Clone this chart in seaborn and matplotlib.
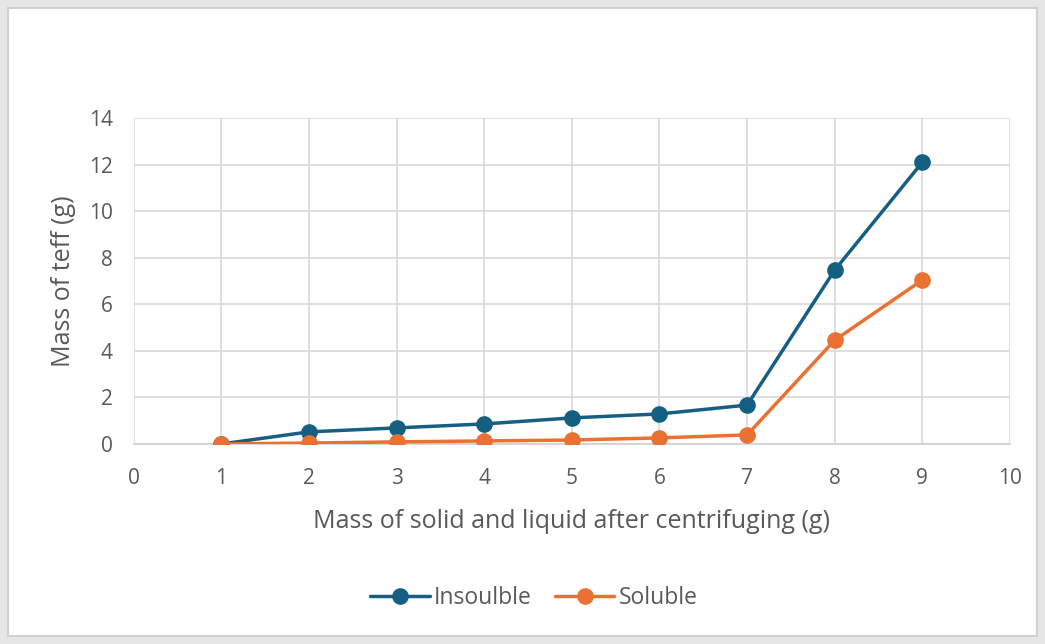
import pandas as pd
import seaborn as sns
import matplotlib.pyplot as plt
from matplotlib.patches import Rectangle

mass_x = [1, 2, 3, 4, 5, 6, 7, 8, 9]
insoluble = [0.0, 0.52, 0.69, 0.86, 1.12, 1.29, 1.67, 7.47, 12.1]
soluble = [0.0, 0.04, 0.09, 0.13, 0.17, 0.26, 0.39, 4.46, 7.04]
series_names = ['Insoulble', 'Soluble']
colors = {'Insoulble': '#156082', 'Soluble': '#E97132'}

data = pd.DataFrame({
    'x': mass_x * 2,
    'y': insoluble + soluble,
    'series': [series_names[0]] * len(mass_x) + [series_names[1]] * len(mass_x),
})

sns.set_style('white')
plt.rcParams['font.family'] = ['Open Sans', 'DejaVu Sans']
grey = '#595959'

fig = plt.figure(figsize=(10.45, 6.44), dpi=100, facecolor='#e6e6e6')
fig.patches.append(Rectangle((8 / 1045, 8 / 644), 1029 / 1045, 628 / 644, transform=fig.transFigure,
                             facecolor='white', edgecolor='#d0d0d0', linewidth=1.5, zorder=-10))
ax = fig.add_axes([0.128, 0.3106, 0.8385, 0.5062])
ax.set_facecolor('none')

sns.lineplot(data=data, x='x', y='y', hue='series', palette=colors, marker='o',
             markersize=12, markeredgewidth=0, linewidth=2.5, ax=ax, zorder=3)

ax.set_xlim(0, 10)
ax.set_ylim(0, 14)
ax.set_xticks(range(0, 11))
ax.set_yticks(range(0, 15, 2))
ax.grid(True, color='#d9d9d9', linewidth=1.2)
for side in ['top', 'right', 'left']:
    ax.spines[side].set_visible(False)
ax.spines['bottom'].set_color('#d0d0d0')
ax.spines['bottom'].set_linewidth(1.2)
ax.tick_params(length=0, labelsize=15, labelcolor=grey)
ax.tick_params(axis='x', pad=17)
ax.tick_params(axis='y', pad=15)

ax.set_xlabel('Mass of solid and liquid after centrifuging (g)', fontsize=18, color=grey, labelpad=15)
ax.set_ylabel('Mass of teff (g)', fontsize=18, color=grey, labelpad=9)

handles, labels = ax.get_legend_handles_labels()
ax.legend(handles, labels, loc='center', bbox_to_anchor=(534 / 1045, 1 - 598 / 644),
          bbox_transform=fig.transFigure, ncol=2, frameon=False, fontsize=16.5,
          labelcolor=grey, handlelength=2.6, columnspacing=1.0, handletextpad=0.2)

plt.savefig('out.png', dpi=100, facecolor=fig.get_facecolor())
